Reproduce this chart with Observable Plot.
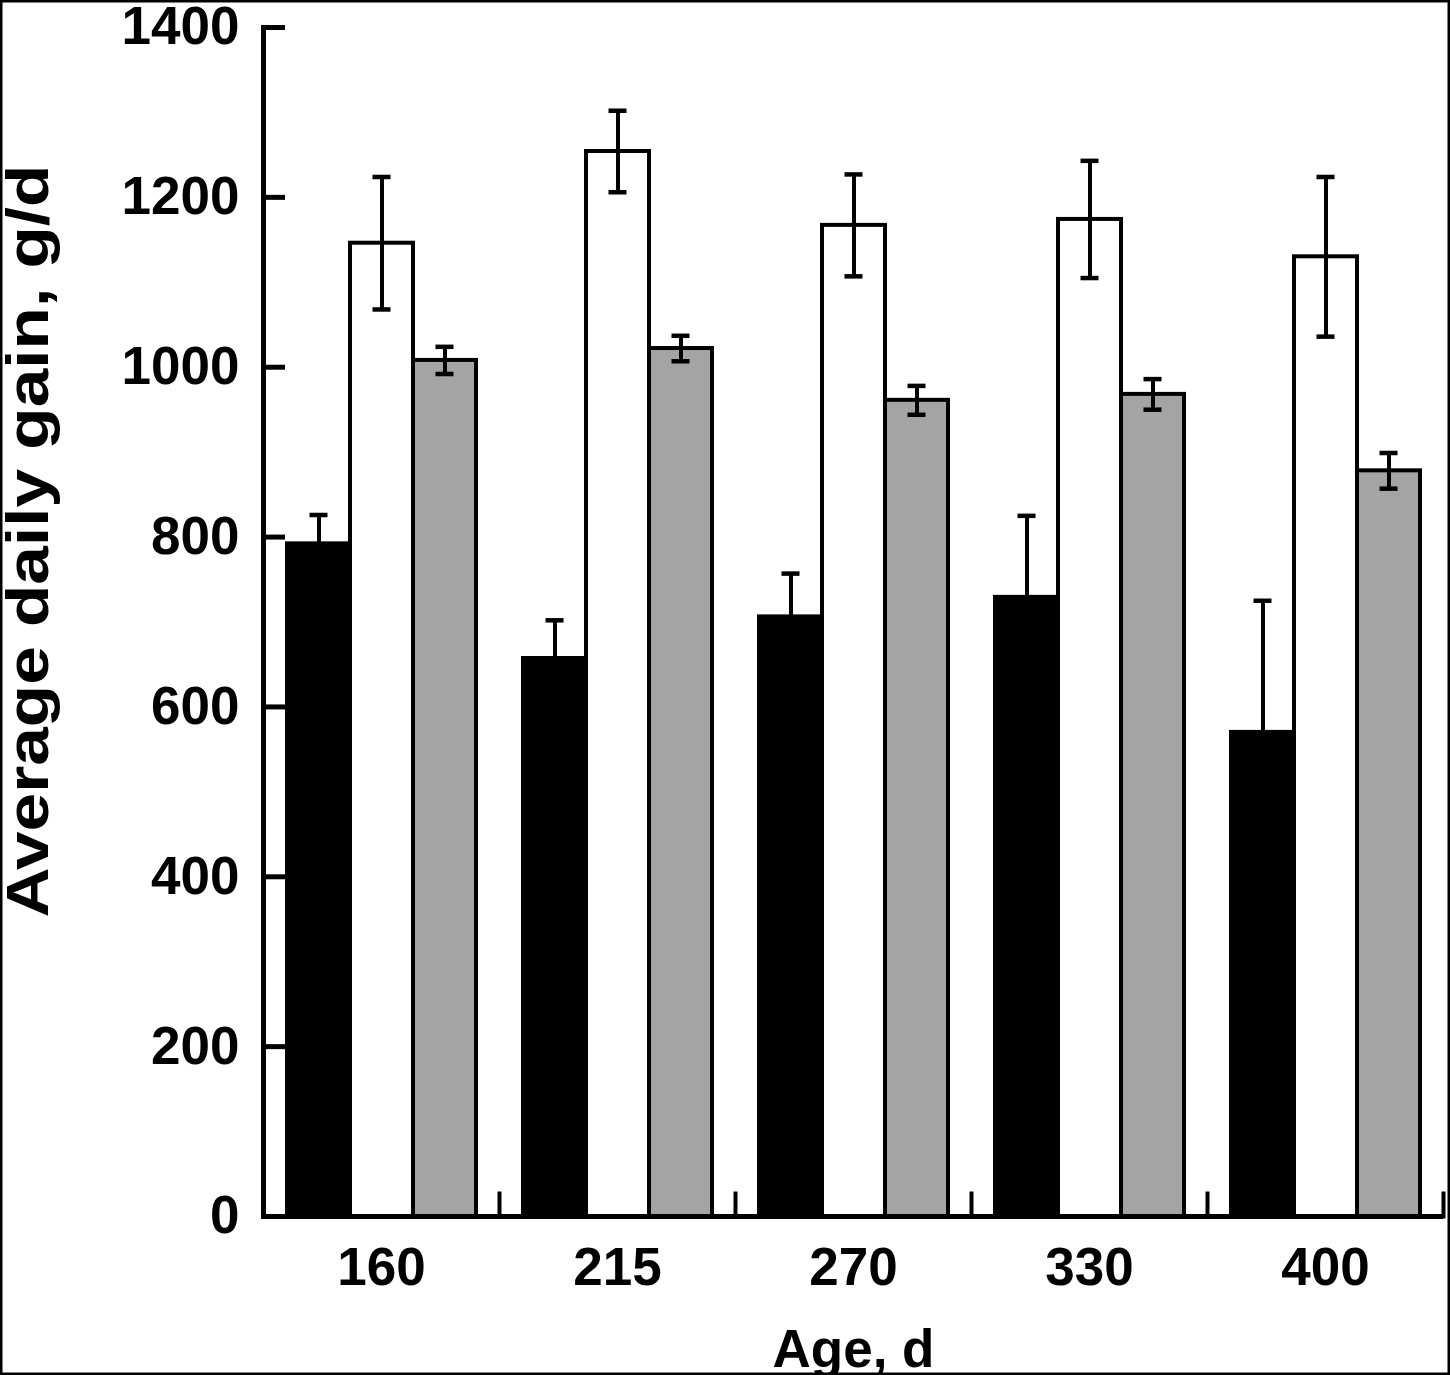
<!DOCTYPE html>
<html><head><meta charset="utf-8">
<script src="https://cdn.jsdelivr.net/npm/d3@7"></script>
<script src="https://cdn.jsdelivr.net/npm/@observablehq/plot@0.6"></script>
<style>body{margin:0;background:#fff;} #chart{width:1450px;height:1375px;}</style>
</head><body><div id="chart"></div>
<script>
// Categories (age, days)
const ages = ["160", "215", "270", "330", "400"];
// Series keys and their fills
const seriesKeys = ["s1", "s2", "s3"];
const seriesFills = ["#000000", "#ffffff", "#a4a4a4"];
// Average daily gain (g/d) and error (±) per series
const s1Values = [792, 657, 706, 729, 570];
const s1Errors = [34, 45, 51, 96, 155];
const s2Values = [1146, 1254, 1167, 1174, 1130];
const s2Errors = [78, 48, 60, 69, 94];
const s3Values = [1008, 1022, 961, 968, 878];
const s3Errors = [16, 15, 17, 18, 21];
// Axis ticks and labels
const yTicks = [0, 200, 400, 600, 800, 1000, 1200, 1400];
const xLabel = "Age, d";
const yLabel = "Average daily gain, g/d";

const seriesValues = {s1: s1Values, s2: s2Values, s3: s3Values};
const seriesErrors = {s1: s1Errors, s2: s2Errors, s3: s3Errors};
const data = [];
ages.forEach((age, i) => {
  seriesKeys.forEach(s => {
    data.push({age, series: s, value: seriesValues[s][i], err: seriesErrors[s][i]});
  });
});

const W = 1450, H = 1375;
const mTop = 27, mBottom = 159, mLeft = 261, mRight = 5;
const innerH = H - mTop - mBottom;
const font = "'Liberation Sans', Arial, Helvetica, sans-serif";

const chart = Plot.plot({
  width: W, height: H,
  marginLeft: mLeft, marginRight: mRight, marginTop: mTop, marginBottom: mBottom,
  style: {fontFamily: font, fontWeight: "bold", fontSize: "53px", background: "white", color: "black", overflow: "visible"},
  fx: {domain: ages, padding: 0},
  x: {domain: seriesKeys, paddingInner: 0, paddingOuter: 0.37, axis: null},
  y: {domain: [0, 1400], label: null},
  color: {domain: seriesKeys, range: seriesFills},
  marks: [
    Plot.barY(data, {fx: "age", x: "series", y: "value", fill: "series", stroke: "black", strokeWidth: 4}),
    Plot.ruleX(data, {fx: "age", x: "series", y1: d => d.value - d.err, y2: d => d.value + d.err, stroke: "black", strokeWidth: 4}),
    Plot.tickY(data, {fx: "age", x: "series", y: d => d.value + d.err, stroke: "black", strokeWidth: 4.5, insetLeft: 22.5, insetRight: 22.5}),
    Plot.tickY(data, {fx: "age", x: "series", y: d => d.value - d.err, stroke: "black", strokeWidth: 4.5, insetLeft: 22.5, insetRight: 22.5}),
    Plot.ruleY([0], {stroke: "black", strokeWidth: 5}),
    Plot.frame({anchor: "left", facetAnchor: "left", stroke: "black", strokeWidth: 5}),
    Plot.frame({anchor: "right", insetTop: innerH - 23, stroke: "black", strokeWidth: 4}),
    Plot.axisY({ticks: yTicks, tickFormat: d => String(d), tickSize: -22, tickPadding: 46, strokeWidth: 5, fontSize: 53, fontWeight: "bold", label: null}),
    Plot.axisFx({anchor: "bottom", tickSize: 0, tickPadding: 31, fontSize: 53, fontWeight: "bold", label: xLabel, labelAnchor: "center", labelOffset: 150})
  ]
});

const svg = d3.select(chart);
svg.append("text")
  .attr("transform", `translate(48, 541) rotate(-90)`)
  .attr("text-anchor", "middle")
  .attr("font-family", font)
  .attr("font-weight", "bold")
  .attr("font-size", 59)
  .attr("textLength", 753)
  .attr("lengthAdjust", "spacingAndGlyphs")
  .attr("fill", "black")
  .text(yLabel);
svg.append("rect")
  .attr("x", 1).attr("y", 1).attr("width", W - 2).attr("height", H - 2)
  .attr("fill", "none").attr("stroke", "black").attr("stroke-width", 3);

document.getElementById("chart").appendChild(chart);
</script>
</body></html>
